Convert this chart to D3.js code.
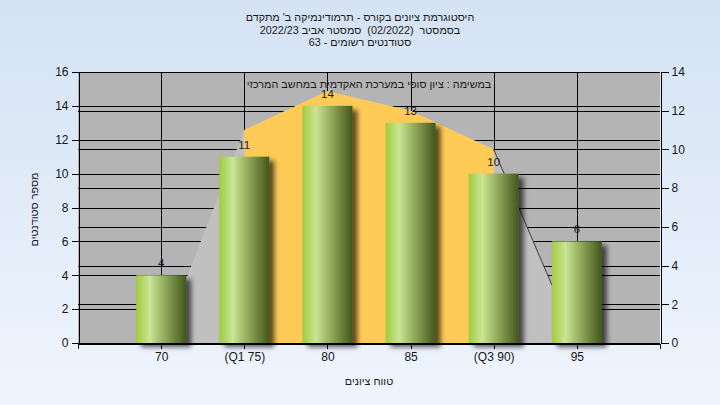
<!DOCTYPE html>
<html><head><meta charset="utf-8">
<script src="https://cdn.jsdelivr.net/npm/d3@7"></script>
<style>
html,body{margin:0;padding:0;}
svg{display:block;}
text{font-family:"Liberation Sans",Arial,sans-serif;}
</style></head>
<body>
<svg id="chart" width="720" height="405"></svg>
<script>
// ---- data ----
const categories = ["70", "(Q1 75)", "80", "85", "(Q3 90)", "95"];
const studentCounts = [4, 11, 14, 13, 10, 6];
const curveValues = [0, 11, 13, 12, 10, 0];   // right axis
const q1Index = 1, q3Index = 4;
const leftTicks = [0, 2, 4, 6, 8, 10, 12, 14, 16];
const rightTicks = [0, 2, 4, 6, 8, 10, 12, 14];
const titleLines = [
  "היסטוגרמת ציונים בקורס - תרמודינמיקה ב' מתקדם",
  "בסמסטר  (02/2022)  סמסטר אביב 2022/23",
  "סטודנטים רשומים - 63"
];
const noteText = "במשימה : ציון סופי במערכת האקדמית במחשב המרכזי";
const xTitle = "טווח ציונים";
const yTitle = "מספר סטודנטים";

const W = 720, H = 405;
const L = 78, R = 660, T = 72, B = 343;
const svg = d3.select("#chart");
const defs = svg.append("defs");

const bg = defs.append("linearGradient").attr("id","bg").attr("x1",0).attr("y1",0).attr("x2",0).attr("y2",1);
bg.append("stop").attr("offset","0%").attr("stop-color","#d4e2f3");
bg.append("stop").attr("offset","100%").attr("stop-color","#eff5fe");

const bar = defs.append("linearGradient").attr("id","barg").attr("x1",0).attr("y1",0).attr("x2",1).attr("y2",0);
[[0,"#a0cb3e"],[0.27,"#cae594"],[0.6,"#8ca558"],[1,"#43561c"]].forEach(([o,c]) =>
  bar.append("stop").attr("offset",o).attr("stop-color",c));

const sh = defs.append("filter").attr("id","shadow").attr("x","-20%").attr("y","-20%").attr("width","150%").attr("height","150%");
sh.append("feDropShadow").attr("dx",5).attr("dy",4).attr("stdDeviation",2.5)
  .attr("flood-color","#000").attr("flood-opacity",0.65);

svg.append("rect").attr("width",W).attr("height",H).attr("fill","url(#bg)");

const x = d3.scaleLinear().domain([0, categories.length + 1]).range([L, R]);
const yL = d3.scaleLinear().domain([0, 16]).range([B, T]);
const yR = d3.scaleLinear().domain([0, 14]).range([B, T]);

// plot background
svg.append("rect").attr("x",L).attr("y",T).attr("width",R-L).attr("height",B-T).attr("fill","#b4b4b4");

// grid
const grid = svg.append("g").attr("stroke","#000").attr("stroke-width",1).attr("shape-rendering","crispEdges");
leftTicks.forEach(v => grid.append("line").attr("x1",L).attr("x2",R).attr("y1",Math.round(yL(v))+0.5).attr("y2",Math.round(yL(v))+0.5));
rightTicks.forEach(v => grid.append("line").attr("x1",L).attr("x2",R).attr("y1",Math.round(yR(v))+0.5).attr("y2",Math.round(yR(v))+0.5));
categories.forEach((c,i) => grid.append("line").attr("x1",Math.round(x(i+1))+0.5).attr("x2",Math.round(x(i+1))+0.5).attr("y1",T).attr("y2",B));

// curve areas
const curvePts = curveValues.map((v,i) => [x(i+1), yR(v)]);
const area = d3.area().x(d => d[0]).y0(B).y1(d => d[1]);
svg.append("path").attr("d", area(curvePts)).attr("fill","#c0c0c0");
svg.append("path").attr("d", area(curvePts.slice(q1Index, q3Index + 1))).attr("fill","#fecb57");
svg.append("path").attr("d", d3.line()(curvePts.slice(q3Index, q3Index + 2)))
  .attr("fill","none").attr("stroke","#3c3c3c").attr("stroke-width",1);

// bars
const bw = 50;
svg.append("g").selectAll("rect").data(studentCounts).join("rect")
  .attr("x",(d,i) => x(i+1) - bw/2).attr("y", d => yL(d))
  .attr("width", bw).attr("height", d => B - yL(d))
  .attr("fill","url(#barg)").attr("filter","url(#shadow)");

svg.append("g").selectAll("text").data(studentCounts).join("text")
  .attr("x",(d,i) => x(i+1)).attr("y", d => yL(d) - 8)
  .attr("text-anchor","middle").attr("font-size",11.5).attr("fill","#1c1c1c")
  .text(d => d);

// axes
const axG = svg.append("g").attr("shape-rendering","crispEdges");
const lAxis = d3.axisLeft(yL).tickValues(leftTicks).tickSize(7).tickPadding(3);
const rAxis = d3.axisRight(yR).tickValues(rightTicks).tickSize(8).tickPadding(3);
const xAxis = d3.axisBottom(x).tickValues(d3.range(0, categories.length + 2)).tickSize(5).tickPadding(4)
  .tickFormat(d => (d >= 1 && d <= categories.length) ? categories[d-1] : "");
[[lAxis, `translate(${L+0.5},0)`],[rAxis, `translate(${R+0.5},0)`],[xAxis, `translate(0,${B+0.5})`]].forEach(([a,t]) => {
  const g = axG.append("g").attr("transform", t).call(a);
  g.selectAll("path,line").attr("stroke","#000");
  g.selectAll("text").attr("font-size",12).attr("fill","#141414").attr("font-family","Liberation Sans, Arial, sans-serif");
});

// texts
const label = sel => sel.attr("text-anchor","middle").attr("font-size",10.8).attr("fill","#1a1a1a").style("white-space","pre");
titleLines.forEach((s,i) => label(svg.append("text").attr("x",360).attr("y",21 + i*12.7)).text(s));
label(svg.append("text").attr("x",(L+R)/2).attr("y",88)).text(noteText);
label(svg.append("text").attr("x",(L+R)/2).attr("y",385)).text(xTitle);
label(svg.append("text").attr("transform",`translate(38,${(T+B)/2 + 2}) rotate(-90)`)).text(yTitle);
</script>
</body></html>
